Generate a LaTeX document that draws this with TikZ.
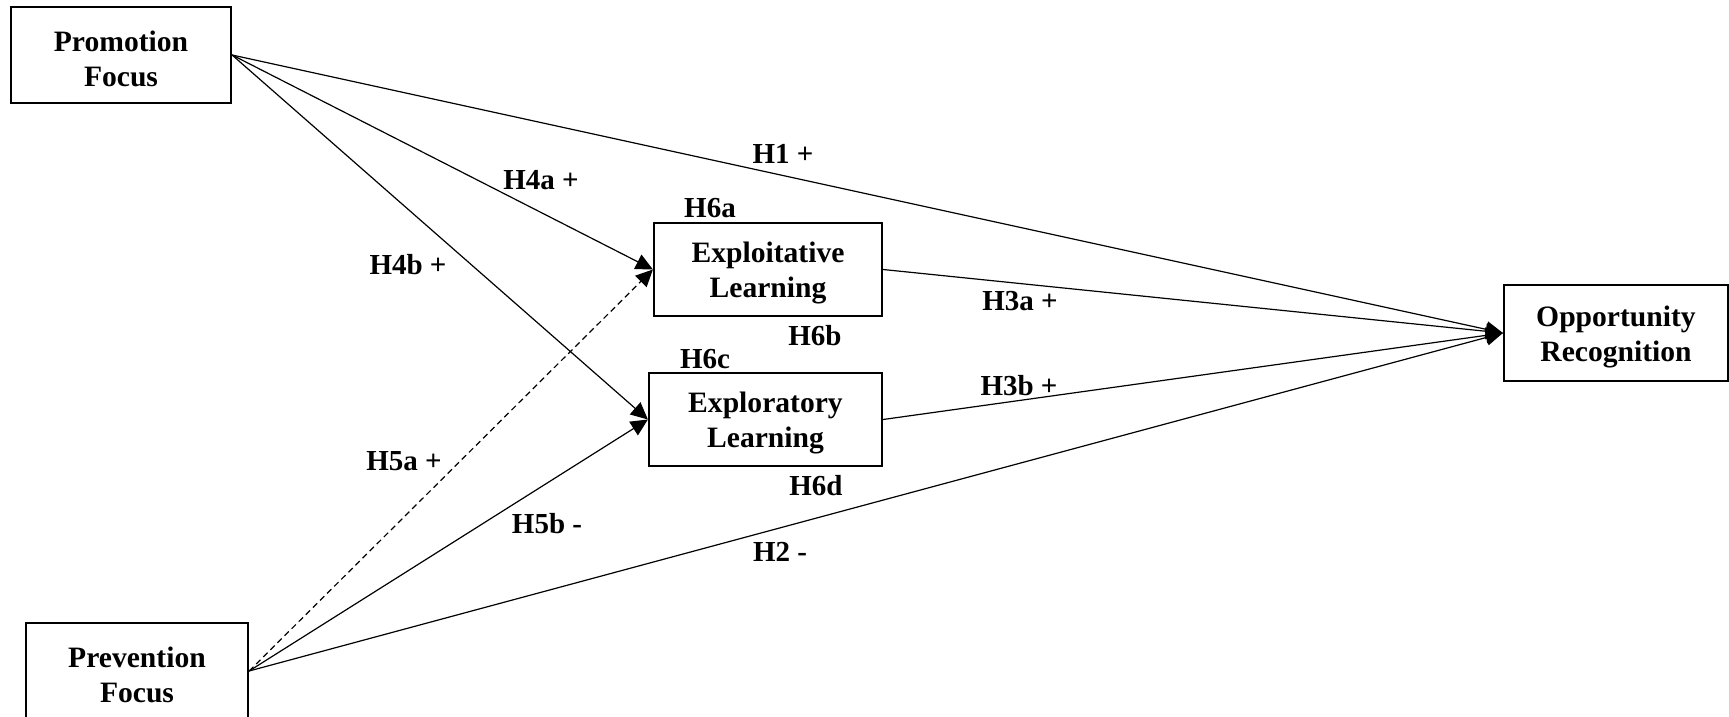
\documentclass[tikz,border=0pt]{standalone}
\usepackage{fontspec}
\setmainfont{Liberation Serif}
\usetikzlibrary{arrows.meta}
\newcommand{\boxtop}{\rule{0pt}{14pt}}
\begin{document}
\begin{tikzpicture}[x=0.5pt,y=-0.5pt,
  box/.style={draw,line width=1.1pt,inner sep=0pt,align=center,
    font=\fontsize{14.8}{17.6}\selectfont\bfseries},
  lbl/.style={inner sep=0pt,font=\fontsize{14.5}{16}\selectfont\bfseries},
  conn/.style={line width=0.6pt,-{Triangle[length=8.5pt,width=8pt]}},
  dashline/.style={line width=0.6pt,dash pattern=on 3pt off 2pt,-{Triangle[length=8.5pt,width=8pt]}}]
\useasboundingbox (0,0) rectangle (1729,717);
\node[box,minimum width=110pt,minimum height=48pt] (prom) at (121,55) {\boxtop Promotion\\Focus};
\node[box,minimum width=111pt,minimum height=48pt] (prev) at (137,671) {\boxtop Prevention\\Focus};
\node[box,minimum width=114pt,minimum height=46.5pt] (expt) at (768,269.5) {\boxtop Exploitative\\Learning};
\node[box,minimum width=116.5pt,minimum height=46.5pt] (expr) at (765.5,419.5) {\boxtop Exploratory\\Learning};
\node[box,minimum width=112pt,minimum height=48pt] (opp) at (1616,333) {\boxtop Opportunity\\Recognition};

\draw[conn] (prom.east) -- (opp.west);
\draw[conn] (prom.east) -- (expt.west);
\draw[conn] (prom.east) -- (expr.west);
\draw[dashline] (prev.east) -- (expt.west);
\draw[conn] (prev.east) -- (expr.west);
\draw[conn] (prev.east) -- (opp.west);
\draw[conn] (expt.east) -- (opp.west);
\draw[conn] (expr.east) -- (opp.west);

\node[lbl] (h1) at (783,154) {H1 +};
\node[lbl] (h4a) at (541,180) {H4a +};
\node[lbl] (h6a) at (710,208) {H6a};
\node[lbl] (h4b) at (408,265) {H4b +};
\node[lbl] (h3a) at (1020,301) {H3a +};
\node[lbl] (h6b) at (815,336) {H6b};
\node[lbl] (h6c) at (705,359) {H6c};
\node[lbl] (h3b) at (1019,386) {H3b +};
\node[lbl] (h5a) at (404,461) {H5a +};
\node[lbl] (h6d) at (816,486) {H6d};
\node[lbl] (h5b) at (547,524) {H5b -};
\node[lbl] (h2) at (780,552) {H2 -};
\end{tikzpicture}
\end{document}
